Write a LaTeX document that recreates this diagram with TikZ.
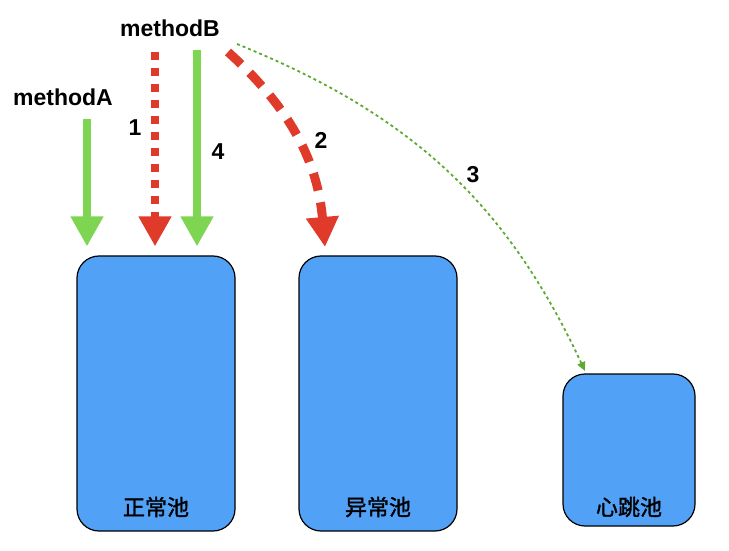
\documentclass[tikz,border=0pt]{standalone}
\usepackage{fontspec}
\setmainfont{Liberation Sans}
\newfontfamily\cjk[AutoFakeBold=1.5]{Noto Sans CJK SC}
\usetikzlibrary{arrows.meta,calc}
\definecolor{lgreen}{HTML}{7ED552}
\definecolor{dgreen}{HTML}{5DAA32}
\definecolor{ared}{HTML}{E03A2B}
\definecolor{pblue}{HTML}{51A1F6}
\begin{document}
\begin{tikzpicture}[x=1pt,y=1pt,
  pool/.style={draw=black,line width=1.2pt,fill=pblue,rounded corners=22pt,inner sep=0pt},
  lbl/.style={font=\fontsize{23}{27}\selectfont\bfseries,inner sep=0pt},
  plbl/.style={font=\cjk\fontsize{22}{25}\selectfont\bfseries,inner sep=0pt},
  bigtip/.style={-{Triangle[width=31pt,length=30pt]}},
  garrow/.style={bigtip,draw=lgreen,line width=8pt},
  rdot/.style={bigtip,draw=ared,line width=8pt,dash pattern=on 8pt off 8pt},
  rdash/.style={bigtip,draw=ared,line width=9pt,dash pattern=on 18pt off 12pt},
  gdot/.style={-{Triangle[width=8pt,length=9pt]},draw=dgreen,line width=1.8pt,dash pattern=on 3pt off 3pt}]
\useasboundingbox (0,0) rectangle (729,550);
% pools
\node[pool,minimum width=158pt,minimum height=275pt] (b1) at (156,156.5) {};
\node[pool,minimum width=158pt,minimum height=275pt] (b2) at (378,156.5) {};
\node[pool,minimum width=132pt,minimum height=152pt] (b3) at (629,100) {};
\node[plbl] (t1) at (156,43) {正常池};
\node[plbl] (t2) at (378,43) {异常池};
\node[plbl] (t3) at (629,43) {心跳池};
% methods
\node[lbl] (mA) at (63,453) {methodA};
\node[lbl] (mB) at (170,522) {methodB};
% start coordinates
\coordinate (sA) at (87,431);
\coordinate (s1) at (155,498);
\coordinate (s4) at (197,500);
\coordinate (s2) at (228,498);
\coordinate (s3) at (237,506);
\coordinate (e2) at (325,303);
\coordinate (e3) at (585,179);
% arrows
\draw[garrow,shorten >=9pt] (sA) -- (sA |- b1.north);
\draw[rdot,shorten >=9pt] (s1) -- (s1 |- b1.north);
\draw[garrow,shorten >=9pt] (s4) -- (s4 |- b1.north);
\draw[rdash] (s2) to[out=-42,in=95] (e2);
\draw[gdot] (s3) to[out=-22,in=115] (e3);
% labels
\node[lbl] (n1) at (135,422) {1};
\node[lbl] (n4) at (218,398) {4};
\node[lbl] (n2) at (321,410) {2};
\node[lbl] (n3) at (473,375) {3};
\end{tikzpicture}
\end{document}
